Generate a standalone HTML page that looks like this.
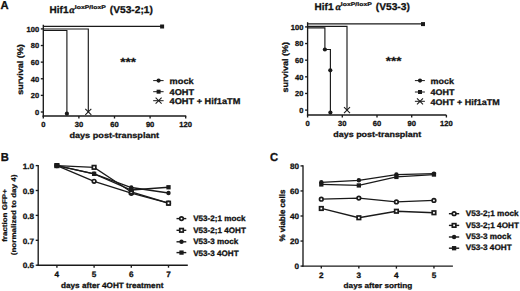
<!DOCTYPE html>
<html><head><meta charset="utf-8"><title>Figure</title>
<style>
html,body{margin:0;padding:0;background:#fff;width:520px;height:291px;overflow:hidden}
svg{display:block}
svg text{font-family:"Liberation Sans",sans-serif;font-weight:bold;fill:#111;stroke:#111;stroke-width:0.3px;text-rendering:geometricPrecision}
svg text.al{font-family:"Liberation Serif",serif;font-style:italic}
</style></head><body>
<svg width="520" height="291" viewBox="0 0 520 291">
<rect width="520" height="291" fill="#fff"/>
<text font-size="11.2" transform="translate(0.5,9) scale(1,1.03)">A</text>
<text font-size="10" transform="translate(49.6,13) scale(1,0.97)">Hif1</text>
<text class="al" font-size="10" transform="translate(69.3,13)">&#945;</text>
<text font-size="6.9" transform="translate(74.8,9) scale(1,0.77)">loxP/loxP</text>
<text font-size="10.2" transform="translate(109.8,13) scale(1,0.97)">(V53-2;1)</text>
<line x1="43.3" y1="24.7" x2="43.3" y2="116.67" stroke="#1a1a1a" stroke-width="1.35"/>
<line x1="40.8" y1="112" x2="43.3" y2="112" stroke="#1a1a1a" stroke-width="1.35"/>
<text font-size="7.5" text-anchor="end" transform="translate(39.1,115) scale(1,0.97)">0</text>
<line x1="40.8" y1="95.38" x2="43.3" y2="95.38" stroke="#1a1a1a" stroke-width="1.35"/>
<text font-size="7.5" text-anchor="end" transform="translate(39.1,98) scale(1,0.97)">20</text>
<line x1="40.8" y1="78.76" x2="43.3" y2="78.76" stroke="#1a1a1a" stroke-width="1.35"/>
<text font-size="7.5" text-anchor="end" transform="translate(39.1,82) scale(1,0.97)">40</text>
<line x1="40.8" y1="62.14" x2="43.3" y2="62.14" stroke="#1a1a1a" stroke-width="1.35"/>
<text font-size="7.5" text-anchor="end" transform="translate(39.1,65) scale(1,0.97)">60</text>
<line x1="40.8" y1="45.52" x2="43.3" y2="45.52" stroke="#1a1a1a" stroke-width="1.35"/>
<text font-size="7.5" text-anchor="end" transform="translate(39.1,48) scale(1,0.97)">80</text>
<line x1="40.8" y1="28.9" x2="43.3" y2="28.9" stroke="#1a1a1a" stroke-width="1.35"/>
<text font-size="7.5" text-anchor="end" transform="translate(39.1,32) scale(1,0.97)">100</text>
<line x1="42.62" y1="116" x2="186.2" y2="116" stroke="#1a1a1a" stroke-width="1.35"/>
<line x1="43.3" y1="116" x2="43.3" y2="118.5" stroke="#1a1a1a" stroke-width="1.35"/>
<text font-size="7.6" text-anchor="middle" transform="translate(43.3,127) scale(1,0.97)">0</text>
<line x1="78.9" y1="116" x2="78.9" y2="118.5" stroke="#1a1a1a" stroke-width="1.35"/>
<text font-size="7.6" text-anchor="middle" transform="translate(78.9,127) scale(1,0.97)">30</text>
<line x1="114.5" y1="116" x2="114.5" y2="118.5" stroke="#1a1a1a" stroke-width="1.35"/>
<text font-size="7.6" text-anchor="middle" transform="translate(114.5,127) scale(1,0.97)">60</text>
<line x1="150.1" y1="116" x2="150.1" y2="118.5" stroke="#1a1a1a" stroke-width="1.35"/>
<text font-size="7.6" text-anchor="middle" transform="translate(150.1,127) scale(1,0.97)">90</text>
<line x1="185.7" y1="116" x2="185.7" y2="118.5" stroke="#1a1a1a" stroke-width="1.35"/>
<text font-size="7.6" text-anchor="middle" transform="translate(185.7,127) scale(1,0.97)">120</text>
<text font-size="9.15" transform="translate(69.4,138) scale(1,0.87)">days post-transplant</text>
<text font-size="9" text-anchor="middle" transform="translate(23.1,69.4) rotate(-90) scale(1.0,0.91)">survival (%)</text>
<line x1="43.3" y1="26.3" x2="162.1" y2="26.3" stroke="#1a1a1a" stroke-width="1.15"/>
<rect x="160.1" y="24.5" width="4" height="4" fill="#1a1a1a"/>
<polyline fill="none" stroke="#1a1a1a" stroke-width="1.15" points="43.3,29 88.3,29 88.3,111.9"/>
<line x1="85.3" y1="108.9" x2="91.3" y2="114.9" stroke="#1a1a1a" stroke-width="1.05"/>
<line x1="85.3" y1="114.9" x2="91.3" y2="108.9" stroke="#1a1a1a" stroke-width="1.05"/>
<polyline fill="none" stroke="#1a1a1a" stroke-width="1.15" points="43.3,30.5 66.9,30.5 66.9,113.7"/>
<circle cx="66.9" cy="113.7" r="2.1" fill="#1a1a1a"/>
<text font-size="13.5" text-anchor="middle" transform="translate(128.2,66) scale(1,0.87)" style="stroke-width:0.25px">***</text>
<line x1="153.2" y1="80.6" x2="163.6" y2="80.6" stroke="#1a1a1a" stroke-width="1.0"/>
<circle cx="158.6" cy="80.6" r="2.1" fill="#1a1a1a"/>
<text font-size="9.2" transform="translate(169.6,84) scale(1,0.92)">mock</text>
<line x1="153.2" y1="91.7" x2="163.6" y2="91.7" stroke="#1a1a1a" stroke-width="1.0"/>
<rect x="156.6" y="89.7" width="4" height="4" fill="#1a1a1a"/>
<text font-size="9.2" transform="translate(169.6,95) scale(1,0.92)">4OHT</text>
<line x1="153.2" y1="100.7" x2="163.6" y2="100.7" stroke="#1a1a1a" stroke-width="1.0"/>
<line x1="155.6" y1="97.7" x2="161.6" y2="103.7" stroke="#1a1a1a" stroke-width="1.05"/>
<line x1="155.6" y1="103.7" x2="161.6" y2="97.7" stroke="#1a1a1a" stroke-width="1.05"/>
<text font-size="9.2" transform="translate(169.6,104) scale(1,0.92)">4OHT + Hif1aTM</text>
<text font-size="10" transform="translate(314.6,10) scale(1,0.97)">Hif1</text>
<text class="al" font-size="10" transform="translate(335.5,10)">&#945;</text>
<text font-size="6.9" transform="translate(340.8,6) scale(1,0.77)">loxP/loxP</text>
<text font-size="10.2" transform="translate(375.8,10) scale(1,0.97)">(V53-3)</text>
<line x1="307.6" y1="22.2" x2="307.6" y2="115.67" stroke="#1a1a1a" stroke-width="1.35"/>
<line x1="305.1" y1="110.1" x2="307.6" y2="110.1" stroke="#1a1a1a" stroke-width="1.35"/>
<text font-size="7.5" text-anchor="end" transform="translate(303.3,113) scale(1,0.97)">0</text>
<line x1="305.1" y1="93.46" x2="307.6" y2="93.46" stroke="#1a1a1a" stroke-width="1.35"/>
<text font-size="7.5" text-anchor="end" transform="translate(303.3,96) scale(1,0.97)">20</text>
<line x1="305.1" y1="76.82" x2="307.6" y2="76.82" stroke="#1a1a1a" stroke-width="1.35"/>
<text font-size="7.5" text-anchor="end" transform="translate(303.3,80) scale(1,0.97)">40</text>
<line x1="305.1" y1="60.18" x2="307.6" y2="60.18" stroke="#1a1a1a" stroke-width="1.35"/>
<text font-size="7.5" text-anchor="end" transform="translate(303.3,63) scale(1,0.97)">60</text>
<line x1="305.1" y1="43.54" x2="307.6" y2="43.54" stroke="#1a1a1a" stroke-width="1.35"/>
<text font-size="7.5" text-anchor="end" transform="translate(303.3,46) scale(1,0.97)">80</text>
<line x1="305.1" y1="26.9" x2="307.6" y2="26.9" stroke="#1a1a1a" stroke-width="1.35"/>
<text font-size="7.5" text-anchor="end" transform="translate(303.3,30) scale(1,0.97)">100</text>
<line x1="306.93" y1="115" x2="446.4" y2="115" stroke="#1a1a1a" stroke-width="1.35"/>
<line x1="307.6" y1="115" x2="307.6" y2="117.5" stroke="#1a1a1a" stroke-width="1.35"/>
<text font-size="7.6" text-anchor="middle" transform="translate(307.6,126) scale(1,0.97)">0</text>
<line x1="342.3" y1="115" x2="342.3" y2="117.5" stroke="#1a1a1a" stroke-width="1.35"/>
<text font-size="7.6" text-anchor="middle" transform="translate(342.3,126) scale(1,0.97)">30</text>
<line x1="377" y1="115" x2="377" y2="117.5" stroke="#1a1a1a" stroke-width="1.35"/>
<text font-size="7.6" text-anchor="middle" transform="translate(377,126) scale(1,0.97)">60</text>
<line x1="411.7" y1="115" x2="411.7" y2="117.5" stroke="#1a1a1a" stroke-width="1.35"/>
<text font-size="7.6" text-anchor="middle" transform="translate(411.7,126) scale(1,0.97)">90</text>
<line x1="446.4" y1="115" x2="446.4" y2="117.5" stroke="#1a1a1a" stroke-width="1.35"/>
<text font-size="7.6" text-anchor="middle" transform="translate(446.4,126) scale(1,0.97)">120</text>
<text font-size="8.95" transform="translate(333.3,137) scale(1,0.88)">days post-transplant</text>
<text font-size="9" text-anchor="middle" transform="translate(288.4,67.3) rotate(-90) scale(1.0,0.91)">survival (%)</text>
<line x1="307.6" y1="23.9" x2="423" y2="23.9" stroke="#1a1a1a" stroke-width="1.15"/>
<rect x="421" y="22.1" width="4" height="4" fill="#1a1a1a"/>
<polyline fill="none" stroke="#1a1a1a" stroke-width="1.15" points="307.6,26.4 347,26.4 347,110.1"/>
<line x1="344" y1="107.1" x2="350" y2="113.1" stroke="#1a1a1a" stroke-width="1.05"/>
<line x1="344" y1="113.1" x2="350" y2="107.1" stroke="#1a1a1a" stroke-width="1.05"/>
<polyline fill="none" stroke="#1a1a1a" stroke-width="1.15" points="307.6,27.9 324.9,27.9 324.9,49.5 330.4,49.5 330.4,112.6"/>
<circle cx="324.9" cy="49.5" r="2.1" fill="#1a1a1a"/>
<circle cx="330.3" cy="70.3" r="2.1" fill="#1a1a1a"/>
<circle cx="330.4" cy="112.6" r="2.1" fill="#1a1a1a"/>
<text font-size="13.5" text-anchor="middle" transform="translate(393.7,65) scale(1,0.87)" style="stroke-width:0.25px">***</text>
<line x1="414.9" y1="80.6" x2="424.9" y2="80.6" stroke="#1a1a1a" stroke-width="1.0"/>
<circle cx="420" cy="80.6" r="2.1" fill="#1a1a1a"/>
<text font-size="9.0" transform="translate(430.4,84) scale(1,0.92)">mock</text>
<line x1="414.9" y1="92" x2="424.9" y2="92" stroke="#1a1a1a" stroke-width="1.0"/>
<rect x="418" y="90" width="4" height="4" fill="#1a1a1a"/>
<text font-size="9.0" transform="translate(430.4,95) scale(1,0.92)">4OHT</text>
<line x1="414.9" y1="101.3" x2="424.9" y2="101.3" stroke="#1a1a1a" stroke-width="1.0"/>
<line x1="417" y1="98.3" x2="423" y2="104.3" stroke="#1a1a1a" stroke-width="1.05"/>
<line x1="417" y1="104.3" x2="423" y2="98.3" stroke="#1a1a1a" stroke-width="1.05"/>
<text font-size="9.0" transform="translate(430.4,105) scale(1,0.92)">4OHT + Hif1aTM</text>
<text font-size="11.2" transform="translate(0.7,161) scale(1,1.03)">B</text>
<line x1="38.2" y1="165" x2="38.2" y2="265.88" stroke="#1a1a1a" stroke-width="1.35"/>
<line x1="35.7" y1="165.6" x2="38.2" y2="165.6" stroke="#1a1a1a" stroke-width="1.35"/>
<text font-size="8.2" text-anchor="end" transform="translate(34.1,169) scale(1,0.945)">1.0</text>
<line x1="35.7" y1="190.5" x2="38.2" y2="190.5" stroke="#1a1a1a" stroke-width="1.35"/>
<text font-size="8.2" text-anchor="end" transform="translate(34.1,194) scale(1,0.945)">0.9</text>
<line x1="35.7" y1="215.4" x2="38.2" y2="215.4" stroke="#1a1a1a" stroke-width="1.35"/>
<text font-size="8.2" text-anchor="end" transform="translate(34.1,219) scale(1,0.945)">0.8</text>
<line x1="35.7" y1="240.3" x2="38.2" y2="240.3" stroke="#1a1a1a" stroke-width="1.35"/>
<text font-size="8.2" text-anchor="end" transform="translate(34.1,244) scale(1,0.945)">0.7</text>
<line x1="35.7" y1="265.2" x2="38.2" y2="265.2" stroke="#1a1a1a" stroke-width="1.35"/>
<text font-size="8.2" text-anchor="end" transform="translate(34.1,268) scale(1,0.945)">0.6</text>
<line x1="37.53" y1="265.2" x2="187.8" y2="265.2" stroke="#1a1a1a" stroke-width="1.35"/>
<line x1="56.9" y1="265.2" x2="56.9" y2="267.7" stroke="#1a1a1a" stroke-width="1.35"/>
<text font-size="8.2" text-anchor="middle" transform="translate(56.9,277) scale(1,0.96)">4</text>
<line x1="94.1" y1="265.2" x2="94.1" y2="267.7" stroke="#1a1a1a" stroke-width="1.35"/>
<text font-size="8.2" text-anchor="middle" transform="translate(94.1,277) scale(1,0.96)">5</text>
<line x1="131.3" y1="265.2" x2="131.3" y2="267.7" stroke="#1a1a1a" stroke-width="1.35"/>
<text font-size="8.2" text-anchor="middle" transform="translate(131.3,277) scale(1,0.96)">6</text>
<line x1="168.5" y1="265.2" x2="168.5" y2="267.7" stroke="#1a1a1a" stroke-width="1.35"/>
<text font-size="8.2" text-anchor="middle" transform="translate(168.5,277) scale(1,0.96)">7</text>
<text font-size="8.2" transform="translate(61,288) scale(1,0.95)">days after 4OHT treatment</text>
<text font-size="8" text-anchor="middle" transform="translate(7.4,215.5) rotate(-90) scale(1.0,0.85)">fraction GFP+</text>
<text font-size="8" text-anchor="middle" transform="translate(16.2,214.9) rotate(-90) scale(1.01,0.85)">(normalized to day 4)</text>
<polyline fill="none" stroke="#1a1a1a" stroke-width="1.3" points="56.9,165.6 94.1,181.29 131.3,193.24 168.5,203.2"/>
<polyline fill="none" stroke="#1a1a1a" stroke-width="1.3" points="56.9,165.6 94.1,167.34 131.3,191.99 168.5,203.2"/>
<polyline fill="none" stroke="#1a1a1a" stroke-width="1.3" points="56.9,165.6 94.1,173.82 131.3,187.51 168.5,192.99"/>
<polyline fill="none" stroke="#1a1a1a" stroke-width="1.3" points="56.9,165.6 94.1,173.82 131.3,190 168.5,187.26"/>
<circle cx="56.9" cy="165.6" r="1.8" fill="#fff" stroke="#1a1a1a" stroke-width="1.7"/>
<circle cx="94.1" cy="181.29" r="1.8" fill="#fff" stroke="#1a1a1a" stroke-width="1.7"/>
<circle cx="131.3" cy="193.24" r="1.8" fill="#fff" stroke="#1a1a1a" stroke-width="1.7"/>
<circle cx="168.5" cy="203.2" r="1.8" fill="#fff" stroke="#1a1a1a" stroke-width="1.7"/>
<rect x="55.15" y="163.85" width="3.5" height="3.5" fill="#fff" stroke="#1a1a1a" stroke-width="1.7"/>
<rect x="92.35" y="165.59" width="3.5" height="3.5" fill="#fff" stroke="#1a1a1a" stroke-width="1.7"/>
<rect x="129.55" y="190.24" width="3.5" height="3.5" fill="#fff" stroke="#1a1a1a" stroke-width="1.7"/>
<rect x="166.75" y="201.45" width="3.5" height="3.5" fill="#fff" stroke="#1a1a1a" stroke-width="1.7"/>
<circle cx="56.9" cy="165.6" r="2.2" fill="#1a1a1a"/>
<circle cx="94.1" cy="173.82" r="2.2" fill="#1a1a1a"/>
<circle cx="131.3" cy="187.51" r="2.2" fill="#1a1a1a"/>
<circle cx="168.5" cy="192.99" r="2.2" fill="#1a1a1a"/>
<rect x="54.75" y="163.45" width="4.3" height="4.3" fill="#1a1a1a"/>
<rect x="91.95" y="171.67" width="4.3" height="4.3" fill="#1a1a1a"/>
<rect x="129.15" y="187.85" width="4.3" height="4.3" fill="#1a1a1a"/>
<rect x="166.35" y="185.11" width="4.3" height="4.3" fill="#1a1a1a"/>
<line x1="176.5" y1="218.6" x2="186.3" y2="218.6" stroke="#1a1a1a" stroke-width="1.4"/>
<circle cx="181.5" cy="218.6" r="1.8" fill="#fff" stroke="#1a1a1a" stroke-width="1.7"/>
<text font-size="8.1" transform="translate(193.2,221) scale(1,0.97)">V53-2;1 mock</text>
<line x1="176.5" y1="230.3" x2="186.3" y2="230.3" stroke="#1a1a1a" stroke-width="1.4"/>
<rect x="179.75" y="228.55" width="3.5" height="3.5" fill="#fff" stroke="#1a1a1a" stroke-width="1.7"/>
<text font-size="8.1" transform="translate(193.2,233) scale(1,0.97)">V53-2;1 4OHT</text>
<line x1="176.5" y1="241.8" x2="186.3" y2="241.8" stroke="#1a1a1a" stroke-width="1.4"/>
<circle cx="181.5" cy="241.8" r="2.2" fill="#1a1a1a"/>
<text font-size="8.1" transform="translate(193.2,244) scale(1,0.97)">V53-3 mock</text>
<line x1="176.5" y1="252.6" x2="186.3" y2="252.6" stroke="#1a1a1a" stroke-width="1.4"/>
<rect x="179.35" y="250.45" width="4.3" height="4.3" fill="#1a1a1a"/>
<text font-size="8.1" transform="translate(193.2,256) scale(1,0.97)">V53-3 4OHT</text>
<text font-size="11.2" transform="translate(269.9,161) scale(1,1.03)">C</text>
<line x1="303" y1="165.3" x2="303" y2="266.78" stroke="#1a1a1a" stroke-width="1.35"/>
<line x1="300.5" y1="266.1" x2="303" y2="266.1" stroke="#1a1a1a" stroke-width="1.35"/>
<text font-size="8.2" text-anchor="end" transform="translate(299,269) scale(1,0.95)">0</text>
<line x1="300.5" y1="241.05" x2="303" y2="241.05" stroke="#1a1a1a" stroke-width="1.35"/>
<text font-size="8.2" text-anchor="end" transform="translate(299,244) scale(1,0.95)">20</text>
<line x1="300.5" y1="216" x2="303" y2="216" stroke="#1a1a1a" stroke-width="1.35"/>
<text font-size="8.2" text-anchor="end" transform="translate(299,219) scale(1,0.95)">40</text>
<line x1="300.5" y1="190.95" x2="303" y2="190.95" stroke="#1a1a1a" stroke-width="1.35"/>
<text font-size="8.2" text-anchor="end" transform="translate(299,194) scale(1,0.95)">60</text>
<line x1="300.5" y1="165.9" x2="303" y2="165.9" stroke="#1a1a1a" stroke-width="1.35"/>
<text font-size="8.2" text-anchor="end" transform="translate(299,169) scale(1,0.95)">80</text>
<line x1="302.32" y1="266.1" x2="452.9" y2="266.1" stroke="#1a1a1a" stroke-width="1.35"/>
<line x1="321.3" y1="266.1" x2="321.3" y2="268.6" stroke="#1a1a1a" stroke-width="1.35"/>
<text font-size="8.2" text-anchor="middle" transform="translate(321.3,278) scale(1,0.96)">2</text>
<line x1="358.85" y1="266.1" x2="358.85" y2="268.6" stroke="#1a1a1a" stroke-width="1.35"/>
<text font-size="8.2" text-anchor="middle" transform="translate(358.85,278) scale(1,0.96)">3</text>
<line x1="396.4" y1="266.1" x2="396.4" y2="268.6" stroke="#1a1a1a" stroke-width="1.35"/>
<text font-size="8.2" text-anchor="middle" transform="translate(396.4,278) scale(1,0.96)">4</text>
<line x1="433.95" y1="266.1" x2="433.95" y2="268.6" stroke="#1a1a1a" stroke-width="1.35"/>
<text font-size="8.2" text-anchor="middle" transform="translate(433.95,278) scale(1,0.96)">5</text>
<text font-size="8.2" transform="translate(343.6,288) scale(1,0.9)">days after sorting</text>
<text font-size="8" text-anchor="middle" transform="translate(285.1,215.6) rotate(-90) scale(1.0,1.0)">% viable cells</text>
<polyline fill="none" stroke="#1a1a1a" stroke-width="1.3" points="321.3,182.31 358.85,180.3 396.4,174.54 433.95,173.67"/>
<polyline fill="none" stroke="#1a1a1a" stroke-width="1.3" points="321.3,184.44 358.85,185.44 396.4,176.92 433.95,174.54"/>
<polyline fill="none" stroke="#1a1a1a" stroke-width="1.3" points="321.3,199.22 358.85,198.09 396.4,201.97 433.95,200.47"/>
<polyline fill="none" stroke="#1a1a1a" stroke-width="1.3" points="321.3,208.49 358.85,217.75 396.4,211.24 433.95,212.74"/>
<circle cx="321.3" cy="199.22" r="1.8" fill="#fff" stroke="#1a1a1a" stroke-width="1.7"/>
<circle cx="358.85" cy="198.09" r="1.8" fill="#fff" stroke="#1a1a1a" stroke-width="1.7"/>
<circle cx="396.4" cy="201.97" r="1.8" fill="#fff" stroke="#1a1a1a" stroke-width="1.7"/>
<circle cx="433.95" cy="200.47" r="1.8" fill="#fff" stroke="#1a1a1a" stroke-width="1.7"/>
<rect x="319.55" y="206.74" width="3.5" height="3.5" fill="#fff" stroke="#1a1a1a" stroke-width="1.7"/>
<rect x="357.1" y="216" width="3.5" height="3.5" fill="#fff" stroke="#1a1a1a" stroke-width="1.7"/>
<rect x="394.65" y="209.49" width="3.5" height="3.5" fill="#fff" stroke="#1a1a1a" stroke-width="1.7"/>
<rect x="432.2" y="210.99" width="3.5" height="3.5" fill="#fff" stroke="#1a1a1a" stroke-width="1.7"/>
<circle cx="321.3" cy="182.31" r="2.2" fill="#1a1a1a"/>
<circle cx="358.85" cy="180.3" r="2.2" fill="#1a1a1a"/>
<circle cx="396.4" cy="174.54" r="2.2" fill="#1a1a1a"/>
<circle cx="433.95" cy="173.67" r="2.2" fill="#1a1a1a"/>
<rect x="319.15" y="182.29" width="4.3" height="4.3" fill="#1a1a1a"/>
<rect x="356.7" y="183.29" width="4.3" height="4.3" fill="#1a1a1a"/>
<rect x="394.25" y="174.77" width="4.3" height="4.3" fill="#1a1a1a"/>
<rect x="431.8" y="172.39" width="4.3" height="4.3" fill="#1a1a1a"/>
<line x1="448.9" y1="213.7" x2="459.2" y2="213.7" stroke="#1a1a1a" stroke-width="1.4"/>
<circle cx="454.1" cy="213.7" r="1.8" fill="#fff" stroke="#1a1a1a" stroke-width="1.7"/>
<text font-size="8.2" transform="translate(465.7,216) scale(1,0.97)">V53-2;1 mock</text>
<line x1="448.9" y1="225.4" x2="459.2" y2="225.4" stroke="#1a1a1a" stroke-width="1.4"/>
<rect x="452.35" y="223.65" width="3.5" height="3.5" fill="#fff" stroke="#1a1a1a" stroke-width="1.7"/>
<text font-size="8.2" transform="translate(465.7,228) scale(1,0.97)">V53-2;1 4OHT</text>
<line x1="448.9" y1="237" x2="459.2" y2="237" stroke="#1a1a1a" stroke-width="1.4"/>
<circle cx="454.1" cy="237" r="2.2" fill="#1a1a1a"/>
<text font-size="8.2" transform="translate(465.7,239) scale(1,0.97)">V53-3 mock</text>
<line x1="448.9" y1="248.2" x2="459.2" y2="248.2" stroke="#1a1a1a" stroke-width="1.4"/>
<rect x="451.95" y="246.05" width="4.3" height="4.3" fill="#1a1a1a"/>
<text font-size="8.2" transform="translate(465.7,250) scale(1,0.97)">V53-3 4OHT</text>
</svg>
</body></html>
